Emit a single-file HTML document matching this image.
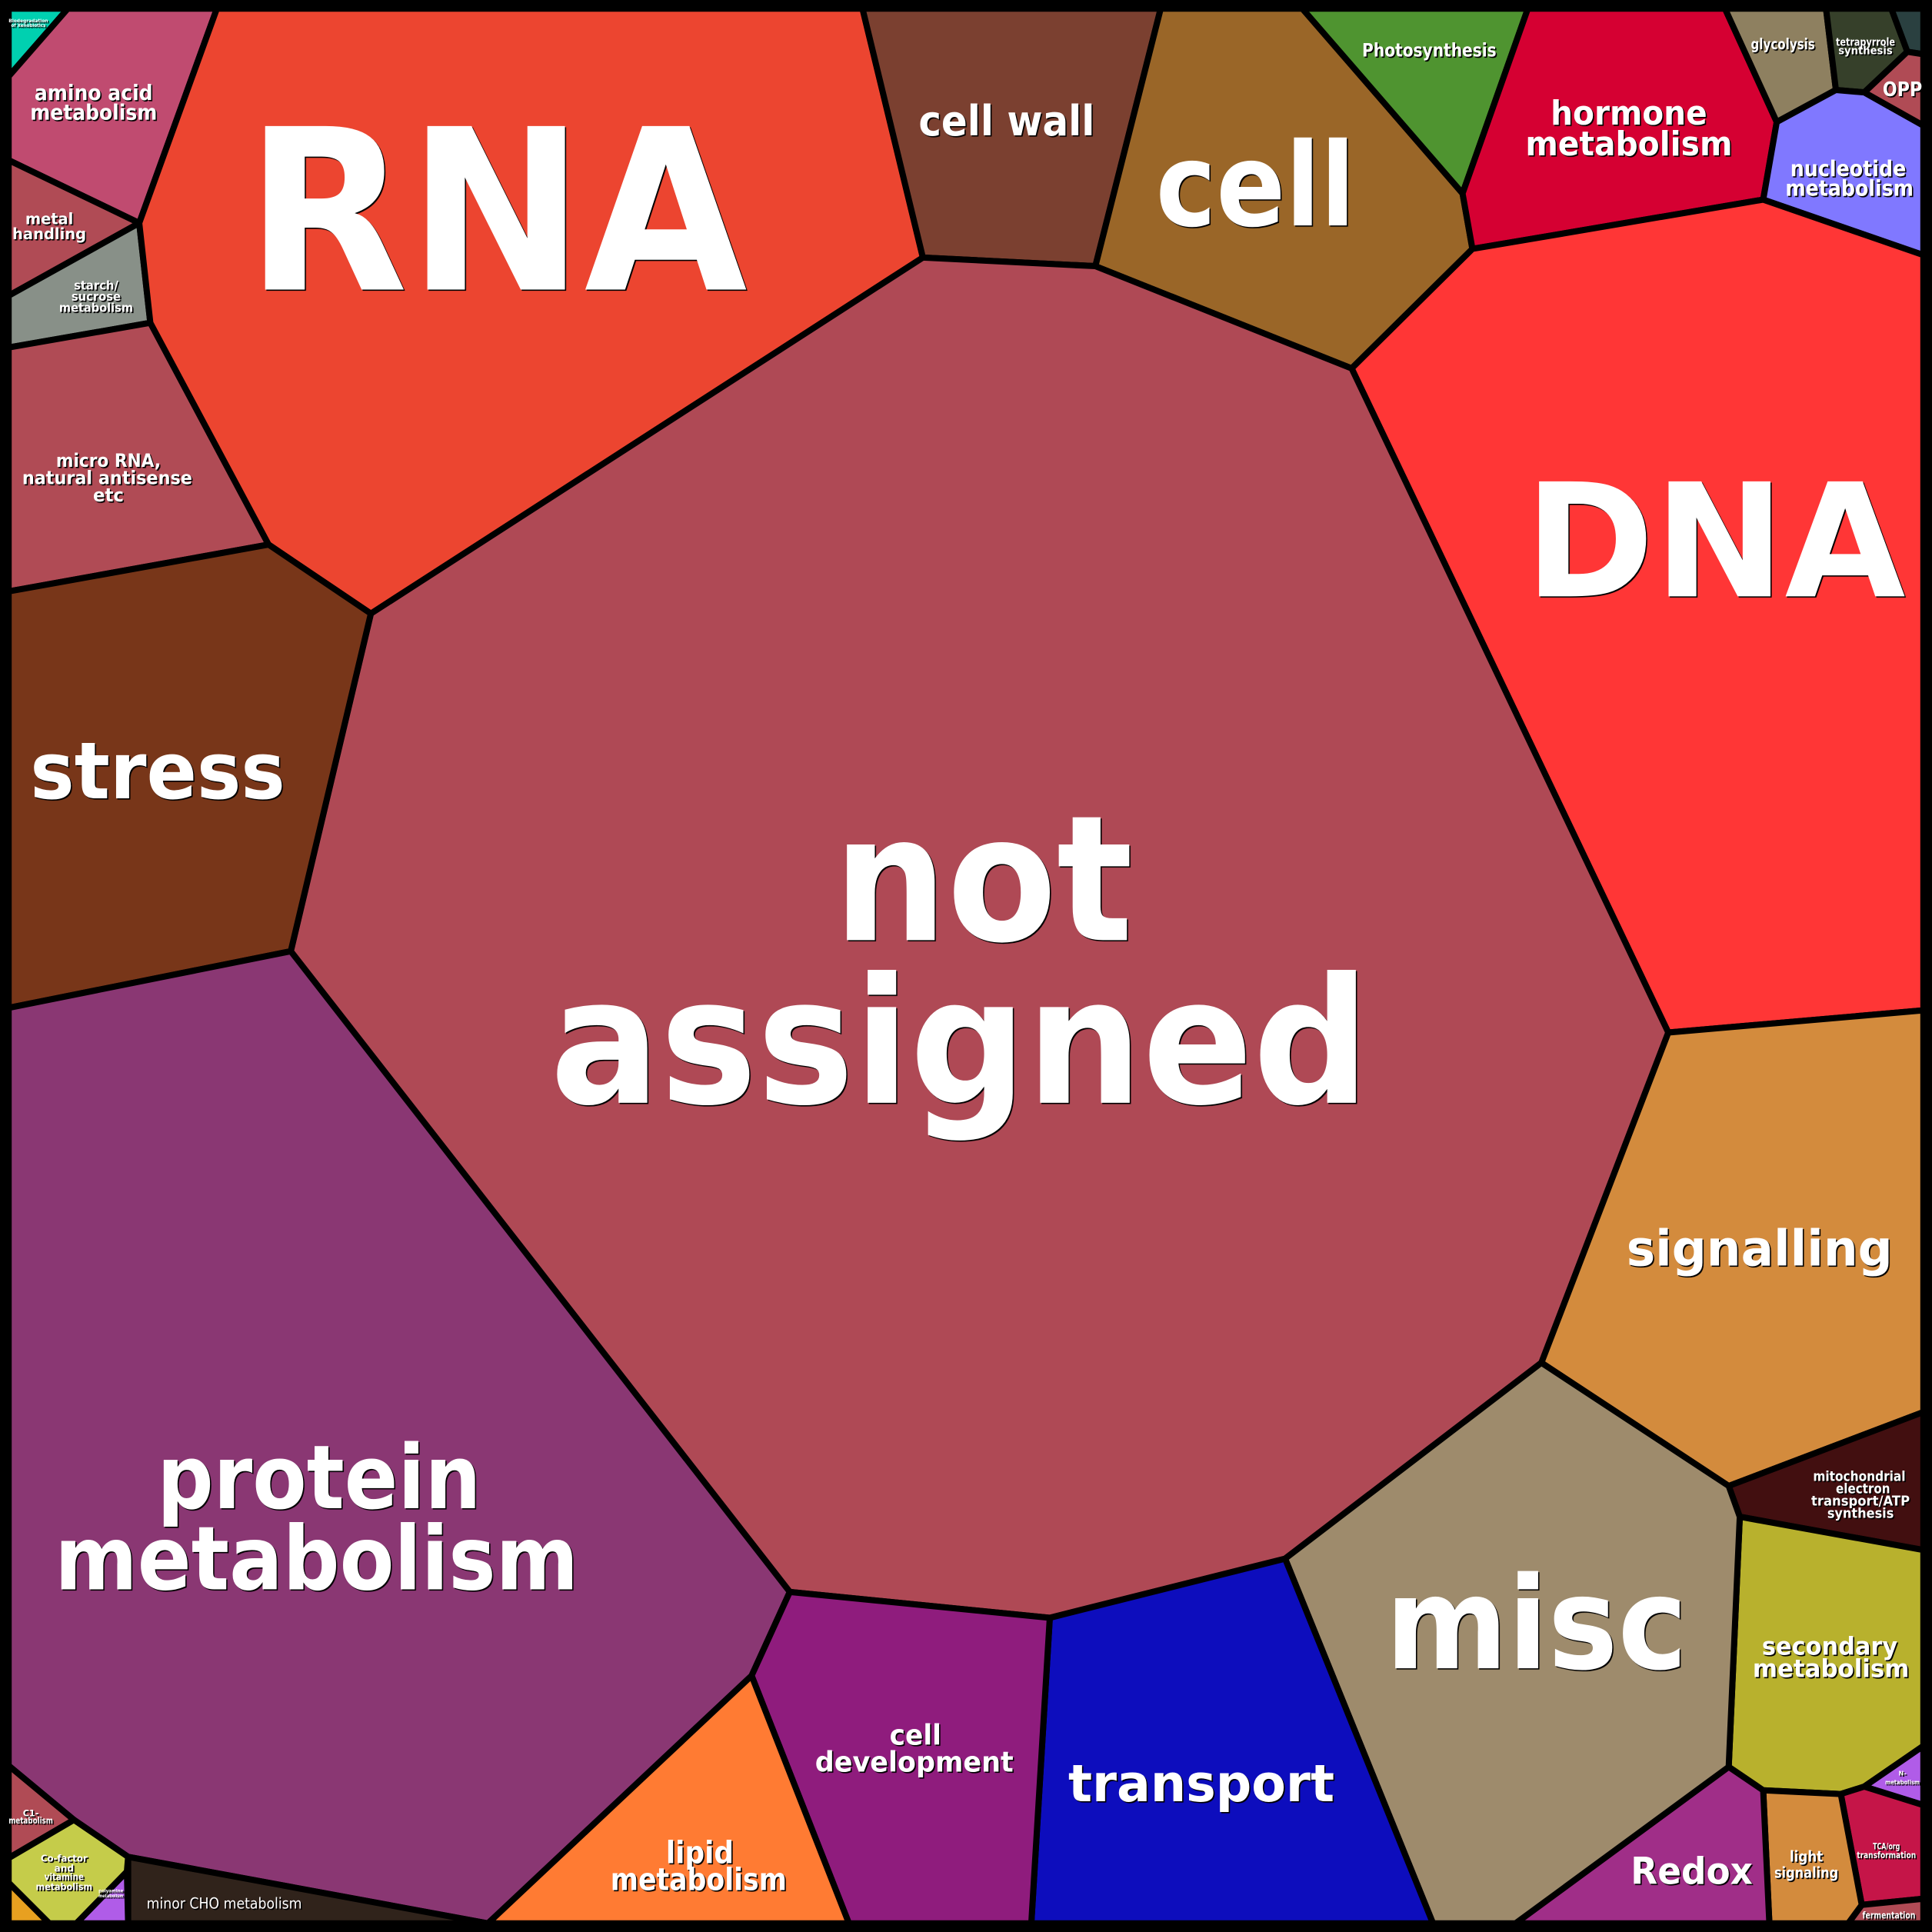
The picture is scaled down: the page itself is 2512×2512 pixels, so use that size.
<!DOCTYPE html>
<html><head><meta charset="utf-8"><style>
html,body{margin:0;padding:0;background:#000}
svg{display:block}
text{font-family:"DejaVu Sans","Liberation Sans",sans-serif;font-weight:bold;fill:#fff;text-anchor:middle}
.t{filter:drop-shadow(1px 1px 0 #000)}
</style></head><body>
<svg width="2512" height="2512" viewBox="0 0 1568 1568" xmlns="http://www.w3.org/2000/svg">
<rect x="0" y="0" width="1568" height="1568" fill="#000"/>
<g stroke="#000" stroke-width="5" stroke-linejoin="round">
<polygon fill="#00d0b0" points="7,7 55,7 7,62"/>
<polygon fill="#c04b70" points="7,62 55,7 176,7 113,181 7,130"/>
<polygon fill="#b04b55" points="7,130 113,181 7,240"/>
<polygon fill="#889088" points="7,240 113,181 122,262 7,282"/>
<polygon fill="#b04b55" points="7,282 122,262 218,442 7,480"/>
<polygon fill="#ec4530" points="176,7 700,7 749,209 301,498 218,442 122,262 113,181"/>
<polygon fill="#7b4030" points="700,7 942,7 889,216 749,209"/>
<polygon fill="#9a6628" points="942,7 1057,7 1187,157 1195,202 1097,299 889,216"/>
<polygon fill="#4f9430" points="1057,7 1240,7 1187,157"/>
<polygon fill="#d50032" points="1240,7 1400,7 1442,99 1431,162 1195,202 1187,157"/>
<polygon fill="#8e8060" points="1400,7 1482,7 1490,73 1442,99"/>
<polygon fill="#36402a" points="1482,7 1535,7 1548,42 1513,75 1490,73"/>
<polygon fill="#2a4040" points="1535,7 1561,7 1561,44 1548,42"/>
<polygon fill="#b04b55" points="1548,42 1561,44 1561,102 1513,75"/>
<polygon fill="#8078ff" points="1442,99 1490,73 1513,75 1561,102 1561,207 1431,162"/>
<polygon fill="#ff3636" points="1195,202 1431,162 1561,207 1561,820 1354,838 1097,299"/>
<polygon fill="#af4955" points="301,498 749,209 889,216 1097,299 1354,838 1251,1106 1043,1265 852,1313 641,1292 236,772"/>
<polygon fill="#783619" points="7,480 218,442 301,498 236,772 7,818"/>
<polygon fill="#8a3773" points="7,818 236,772 641,1292 610,1360 396,1561 104,1507 60,1477 7,1433"/>
<polygon fill="#d38b3d" points="1354,838 1561,820 1561,1146 1403,1206 1251,1106"/>
<polygon fill="#420f10" points="1403,1206 1561,1146 1561,1258 1412,1231"/>
<polygon fill="#b8b12d" points="1412,1231 1561,1258 1561,1417 1513,1450 1494,1456 1431,1453 1403,1434"/>
<polygon fill="#b05ce8" points="1561,1417 1561,1465 1513,1450"/>
<polygon fill="#c51548" points="1494,1456 1513,1450 1561,1465 1561,1541 1511,1546"/>
<polygon fill="#b04b55" points="1511,1546 1561,1541 1561,1561 1500,1561"/>
<polygon fill="#d38b3d" points="1431,1453 1494,1456 1511,1546 1500,1561 1436,1561"/>
<polygon fill="#a02e88" points="1403,1434 1431,1453 1436,1561 1230,1561"/>
<polygon fill="#9e8b6c" points="1043,1265 1251,1106 1403,1206 1412,1231 1403,1434 1230,1561 1163,1561"/>
<polygon fill="#0d0dbd" points="852,1313 1043,1265 1163,1561 837,1561"/>
<polygon fill="#8f1c7d" points="641,1292 852,1313 837,1561 689,1561 610,1360"/>
<polygon fill="#ff7b33" points="610,1360 689,1561 396,1561"/>
<polygon fill="#30231b" points="104,1507 396,1561 104,1561"/>
<polygon fill="#b04b55" points="7,1433 60,1477 7,1508"/>
<polygon fill="#c5cc4a" points="7,1508 60,1477 104,1507 103,1519 62,1561 40,1561 7,1528"/>
<polygon fill="#e8a020" points="7,1528 40,1561 7,1561"/>
<polygon fill="#b05ce8" points="103,1519 104,1561 62,1561"/>
</g>
<rect x="3.5" y="3.5" width="1561" height="1561" fill="none" stroke="#000" stroke-width="7"/>
<g class="t" lengthAdjust="spacingAndGlyphs">
<text x="403" y="235" font-size="182" textLength="407" lengthAdjust="spacingAndGlyphs">RNA</text>
<text x="817" y="110" font-size="34" textLength="143" lengthAdjust="spacingAndGlyphs">cell wall</text>
<text x="1019" y="183" font-size="94" textLength="162" lengthAdjust="spacingAndGlyphs">cell</text>
<text x="1160" y="46" font-size="15" textLength="109" lengthAdjust="spacingAndGlyphs">Photosynthesis</text>
<text x="1322" y="101" font-size="27" textLength="127" lengthAdjust="spacingAndGlyphs">hormone</text>
<text x="1322" y="126" font-size="27" textLength="168" lengthAdjust="spacingAndGlyphs">metabolism</text>
<text x="1447" y="40" font-size="12" textLength="52" lengthAdjust="spacingAndGlyphs">glycolysis</text>
<text x="1514" y="37" font-size="9" textLength="48" lengthAdjust="spacingAndGlyphs">tetrapyrrole</text>
<text x="1514" y="44" font-size="9" textLength="44" lengthAdjust="spacingAndGlyphs">synthesis</text>
<text x="1544" y="78" font-size="16" textLength="32" lengthAdjust="spacingAndGlyphs">OPP</text>
<text x="1500" y="143" font-size="18" textLength="94" lengthAdjust="spacingAndGlyphs">nucleotide</text>
<text x="1501" y="159" font-size="18" textLength="104" lengthAdjust="spacingAndGlyphs">metabolism</text>
<text x="76" y="81" font-size="17" textLength="96" lengthAdjust="spacingAndGlyphs">amino acid</text>
<text x="76" y="97" font-size="17" textLength="103" lengthAdjust="spacingAndGlyphs">metabolism</text>
<text x="40" y="182" font-size="13" textLength="39" lengthAdjust="spacingAndGlyphs">metal</text>
<text x="40" y="194" font-size="13" textLength="60" lengthAdjust="spacingAndGlyphs">handling</text>
<text x="78" y="235" font-size="10" textLength="36" lengthAdjust="spacingAndGlyphs">starch/</text>
<text x="78" y="244" font-size="10" textLength="40" lengthAdjust="spacingAndGlyphs">sucrose</text>
<text x="78" y="253" font-size="10" textLength="60" lengthAdjust="spacingAndGlyphs">metabolism</text>
<text x="88" y="379" font-size="15" textLength="85" lengthAdjust="spacingAndGlyphs">micro RNA,</text>
<text x="87" y="393" font-size="15" textLength="138" lengthAdjust="spacingAndGlyphs">natural antisense</text>
<text x="88" y="407" font-size="15" textLength="25" lengthAdjust="spacingAndGlyphs">etc</text>
<text x="128" y="648" font-size="64" textLength="207" lengthAdjust="spacingAndGlyphs">stress</text>
<text x="798" y="763" font-size="142" textLength="243" lengthAdjust="spacingAndGlyphs">not</text>
<text x="779" y="895" font-size="142" textLength="665" lengthAdjust="spacingAndGlyphs">assigned</text>
<text x="1392" y="484" font-size="128" textLength="309" lengthAdjust="spacingAndGlyphs">DNA</text>
<text x="1428" y="1027" font-size="40" textLength="216" lengthAdjust="spacingAndGlyphs">signalling</text>
<text x="1509" y="1202" font-size="11" textLength="75" lengthAdjust="spacingAndGlyphs">mitochondrial</text>
<text x="1512" y="1212" font-size="11" textLength="44" lengthAdjust="spacingAndGlyphs">electron</text>
<text x="1510" y="1222" font-size="11" textLength="80" lengthAdjust="spacingAndGlyphs">transport/ATP</text>
<text x="1510" y="1232" font-size="11" textLength="54" lengthAdjust="spacingAndGlyphs">synthesis</text>
<text x="1485" y="1343" font-size="20" textLength="110" lengthAdjust="spacingAndGlyphs">secondary</text>
<text x="1486" y="1361" font-size="20" textLength="127" lengthAdjust="spacingAndGlyphs">metabolism</text>
<text x="1247" y="1354" font-size="104" textLength="245" lengthAdjust="spacingAndGlyphs">misc</text>
<text x="975" y="1462" font-size="42" textLength="216" lengthAdjust="spacingAndGlyphs">transport</text>
<text x="743" y="1416" font-size="23" textLength="42" lengthAdjust="spacingAndGlyphs">cell</text>
<text x="742" y="1438" font-size="23" textLength="161" lengthAdjust="spacingAndGlyphs">development</text>
<text x="568" y="1512" font-size="25" textLength="55" lengthAdjust="spacingAndGlyphs">lipid</text>
<text x="567" y="1534" font-size="25" textLength="143" lengthAdjust="spacingAndGlyphs">metabolism</text>
<text x="259" y="1224" font-size="72" textLength="263" lengthAdjust="spacingAndGlyphs">protein</text>
<text x="257" y="1290" font-size="72" textLength="425" lengthAdjust="spacingAndGlyphs">metabolism</text>
<text x="1373" y="1529" font-size="30" textLength="99" lengthAdjust="spacingAndGlyphs">Redox</text>
<text x="1466" y="1511" font-size="12" textLength="27" lengthAdjust="spacingAndGlyphs">light</text>
<text x="1466" y="1524" font-size="12" textLength="52" lengthAdjust="spacingAndGlyphs">signaling</text>
<text x="1531" y="1501" font-size="7" textLength="22" lengthAdjust="spacingAndGlyphs">TCA/org</text>
<text x="1531" y="1508" font-size="7" textLength="48" lengthAdjust="spacingAndGlyphs">transformation</text>
<text x="1533" y="1557" font-size="8" textLength="43" lengthAdjust="spacingAndGlyphs">fermentation</text>
<text x="1544" y="1441" font-size="5">N-</text>
<text x="1544" y="1448" font-size="5" textLength="28" lengthAdjust="spacingAndGlyphs">metabolism</text>
<text x="182" y="1549" font-size="12" style="font-weight:normal" textLength="126" lengthAdjust="spacingAndGlyphs">minor CHO metabolism</text>
<text x="25" y="1474" font-size="7">C1-</text>
<text x="25" y="1480" font-size="7" textLength="36" lengthAdjust="spacingAndGlyphs">metabolism</text>
<text x="52" y="1511" font-size="8" textLength="38" lengthAdjust="spacingAndGlyphs">Co-factor</text>
<text x="52" y="1519" font-size="8" textLength="16" lengthAdjust="spacingAndGlyphs">and</text>
<text x="52" y="1526" font-size="8" textLength="32" lengthAdjust="spacingAndGlyphs">vitamine</text>
<text x="52" y="1534" font-size="8" textLength="46" lengthAdjust="spacingAndGlyphs">metabolism</text>
<text x="90" y="1536" font-size="4" textLength="20" lengthAdjust="spacingAndGlyphs">polyamine</text>
<text x="90" y="1540" font-size="4" textLength="20" lengthAdjust="spacingAndGlyphs">metabolism</text>
<text x="23" y="18" font-size="4" textLength="32" lengthAdjust="spacingAndGlyphs">Biodegradation</text>
<text x="23" y="22" font-size="4" textLength="28" lengthAdjust="spacingAndGlyphs">of Xenobiotics</text>
</g>
</svg>
</body></html>
